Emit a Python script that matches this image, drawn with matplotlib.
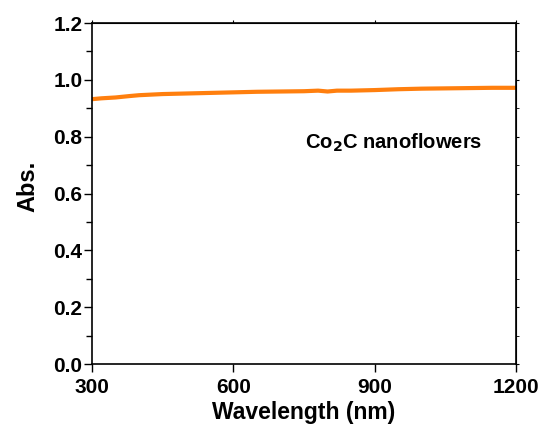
import numpy as np
import matplotlib.pyplot as plt

plt.rcParams['font.family'] = ['Liberation Sans', 'DejaVu Sans']
plt.rcParams['font.weight'] = 'bold'

# Absorbance
wavelength = [300, 320, 350, 380, 400, 450, 500, 550, 600, 650, 700, 750,
              780, 800, 820, 850, 900, 950, 1000, 1050, 1100, 1150, 1200]
absorbance = [0.932, 0.935, 0.938, 0.943, 0.946, 0.950, 0.952, 0.954, 0.956, 0.958,
              0.959, 0.960, 0.962, 0.959, 0.962, 0.962, 0.964, 0.967, 0.969, 0.970,
              0.971, 0.972, 0.972]

xticks = [300, 600, 900, 1200]
yticks = np.arange(0, 1.21, 0.2)
yminor = np.arange(0.1, 1.2, 0.2)

fig = plt.figure(figsize=(5.46, 4.41), dpi=100)
ax = fig.add_axes([0.1685, 0.1746, 0.7766, 0.7732])

ax.plot(wavelength, absorbance, color='#FF7F0E', lw=3)

ax.set_xlim(300, 1200)
ax.set_ylim(0, 1.2)
ax.set_xticks(xticks)
ax.set_yticks(yticks)
ax.set_yticks(yminor, minor=True)
ax.yaxis.set_major_formatter(plt.FormatStrFormatter('%.1f'))
ax.tick_params(which='both', direction='out', labelsize=15, width=1)
ax.tick_params(which='major', length=6)
ax.tick_params(which='minor', length=4)
ax.tick_params(axis='y', pad=1)
ax.tick_params(axis='x', pad=4)
for s in ax.spines.values():
    s.set_linewidth(1.2)

# short ticks on top and right
top = ax.secondary_xaxis('top')
top.set_xticks(xticks)
top.tick_params(length=2, labeltop=False)
right = ax.secondary_yaxis('right')
right.set_yticks(yticks)
right.set_yticks(yminor, minor=True)
right.tick_params(which='both', length=2, labelright=False)

ax.set_xlabel('Wavelength (nm)', fontsize=16.5, fontweight='bold', labelpad=3)
ax.set_ylabel('Abs.', fontsize=17, fontweight='bold')
ax.yaxis.set_label_coords(-0.125, 0.52)
ax.text(752, 0.78, 'Co$_\\mathbf{2}$C nanoflowers', fontsize=14.5, fontweight='bold', va='center')

fig.savefig('out.png', dpi=100)
